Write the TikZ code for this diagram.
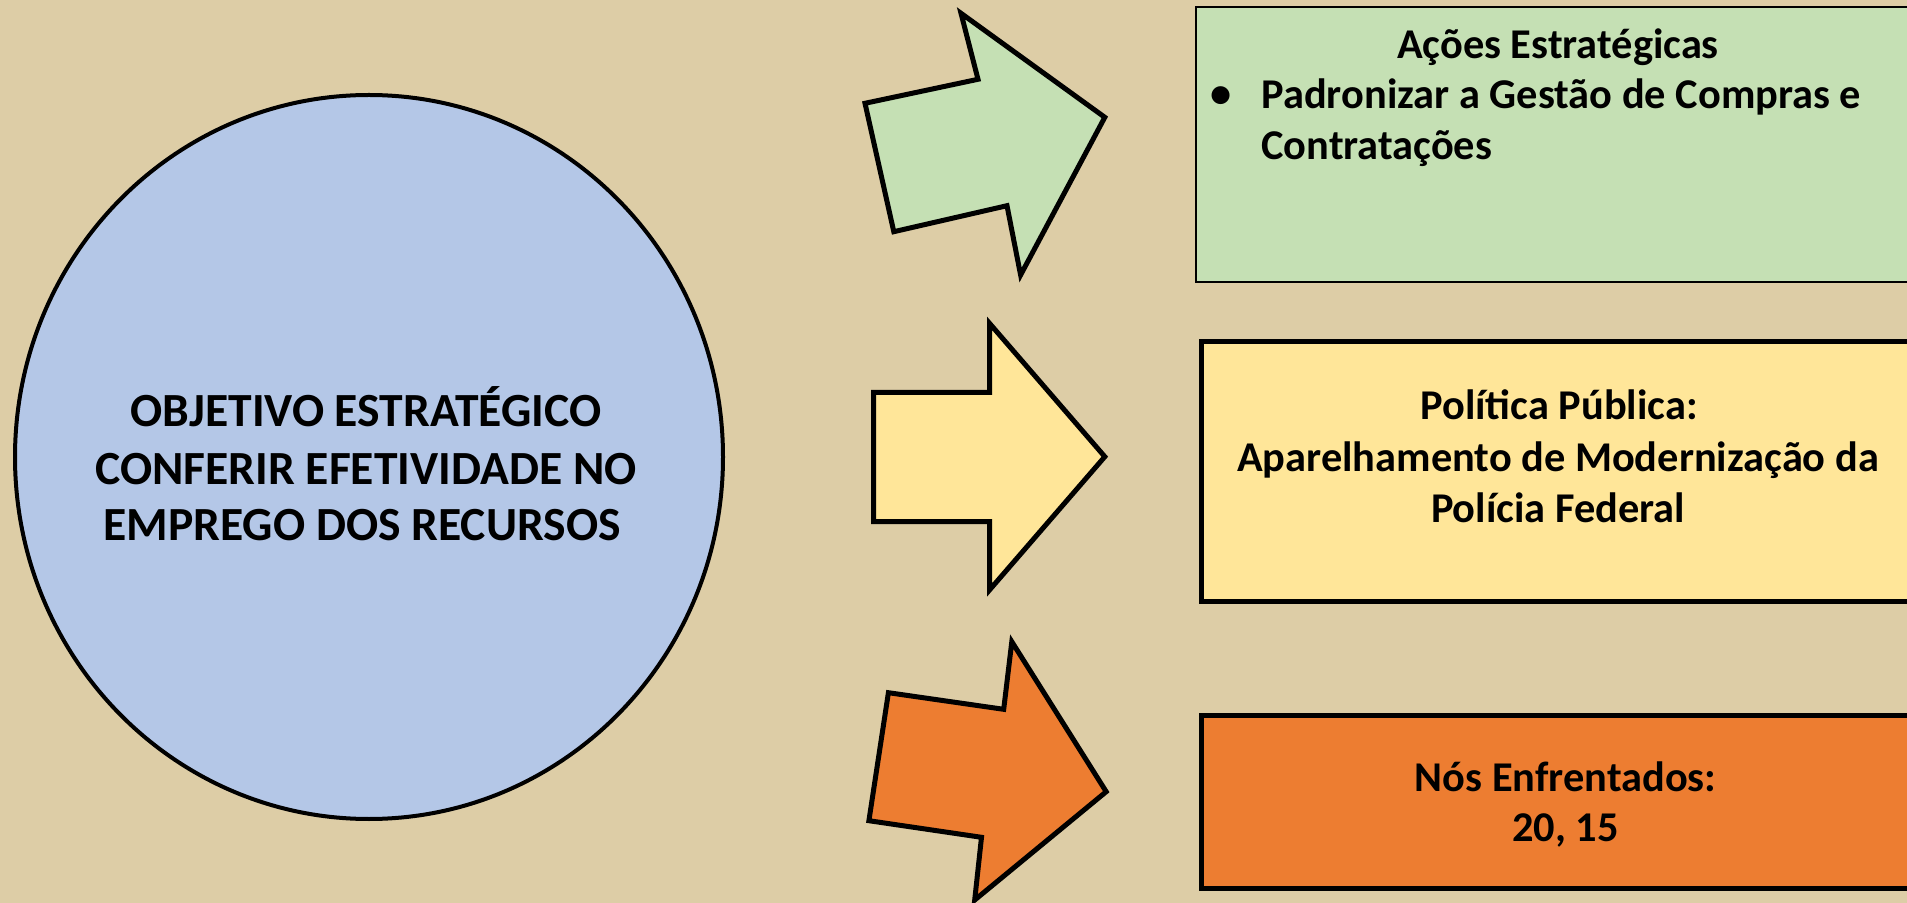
\documentclass[tikz,border=0pt]{standalone}
\usepackage{fontspec}
\setmainfont{Carlito}
\definecolor{bgtan}{RGB}{221,205,166}
\definecolor{circblue}{RGB}{180,199,231}
\definecolor{boxgreen}{RGB}{197,224,180}
\definecolor{boxyellow}{RGB}{255,230,153}
\definecolor{boxorange}{RGB}{237,125,49}
\tikzset{
  arrowshape/.style={draw=black, line width=2.5pt, line join=miter},
  boxthin/.style={draw=black, line width=1.3pt},
  boxthick/.style={draw=black, line width=2.5pt},
  boxtxt/.style={inner sep=0pt, anchor=base, font=\fontsize{21.2}{25.5}\selectfont\bfseries},
  circtxt/.style={inner sep=0pt, anchor=base, font=\fontsize{23.8}{28.5}\selectfont\bfseries},
}
\begin{document}
\begin{tikzpicture}[x=0.5pt,y=-0.5pt]
\useasboundingbox (0,0) rectangle (1907,903);
\fill[bgtan] (0,0) rectangle (1907,903);
% circle
\draw[fill=circblue, line width=2pt] (369,457) ellipse [x radius=354, y radius=362];
\node[circtxt] (c1) at (366,426.6) {OBJETIVO ESTRATÉGICO};
\node[circtxt] (c2) at (366,484.7) {CONFERIR EFETIVIDADE NO};
\node[circtxt] (c3) at (362,540.5) {EMPREGO DOS RECURSOS};
% arrows
\draw[arrowshape, fill=boxgreen] (865,103.3) -- (978,79.3) -- (961,13.3) -- (1104.8,117.3) -- (1020.6,275) -- (1007,205.7) -- (893.8,231.7) -- cycle;
\draw[arrowshape, fill=boxyellow] (873.6,392.3) -- (989.5,392.3) -- (989.5,323.3) -- (1104.8,456.7) -- (989.5,590) -- (989.5,521.7) -- (873.6,521.7) -- cycle;
\draw[arrowshape, fill=boxorange] (888.4,692.7) -- (1003.7,709.3) -- (1011.8,641.7) -- (1106.2,791.7) -- (974.7,900) -- (981.5,837.3) -- (868.9,820.7) -- cycle;
% boxes
\draw[boxthin, fill=boxgreen] (1196,7) rectangle (1925,282);
\draw[boxthick, fill=boxyellow] (1201,342) rectangle (1925,601);
\draw[boxthick, fill=boxorange] (1201,715) rectangle (1925,888);
% box texts
\node[boxtxt] (t1) at (1558,59) {Ações Estratégicas};
\node[boxtxt, anchor=center] (b1) at (1221,97) {•};
\node[boxtxt, anchor=base west] (t2) at (1261,109) {Padronizar a Gestão de Compras e};
\node[boxtxt, anchor=base west] (t3) at (1261,160) {Contratações};
\node[boxtxt] (p1) at (1559,420) {Política Pública:};
\node[boxtxt] (p2) at (1558,471.7) {Aparelhamento de Modernização da};
\node[boxtxt] (p3) at (1558,522.7) {Polícia Federal};
\node[boxtxt] (n1) at (1565.6,791.7) {Nós Enfrentados:};
\node[boxtxt] (n2) at (1565.7,841.7) {20, 15};
\end{tikzpicture}
\end{document}
